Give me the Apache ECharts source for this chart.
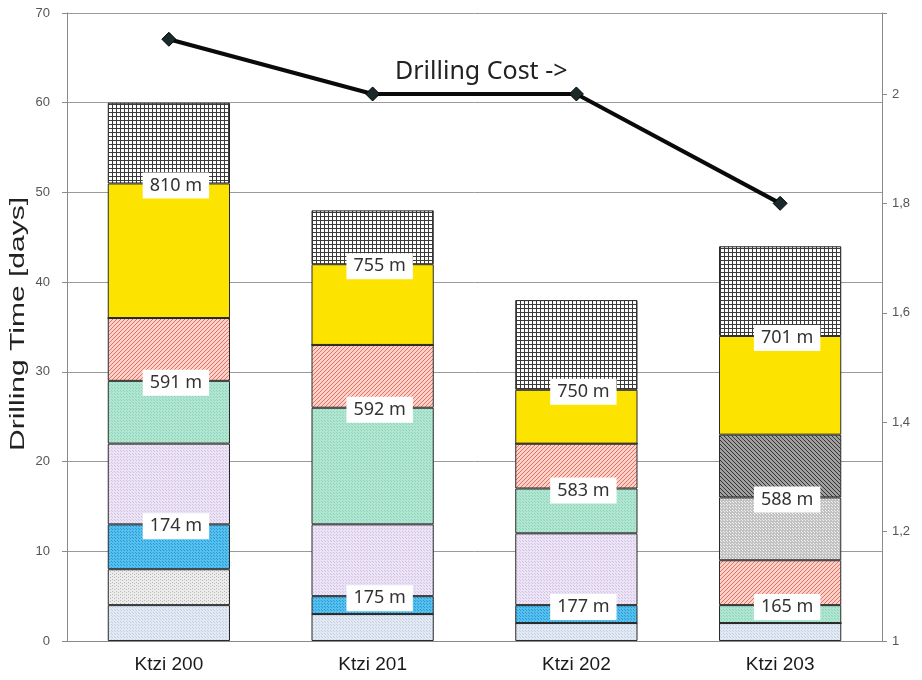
<!DOCTYPE html>
<html><head><meta charset="utf-8">
<script src="https://cdn.jsdelivr.net/npm/echarts@6/dist/echarts.min.js"></script>
<style>html,body{margin:0;padding:0;background:#fff}#c{width:922px;height:680px}</style>
</head><body><div id="c"></div>
<script>
// ---- data ----
var categories = ['Ktzi 200', 'Ktzi 201', 'Ktzi 202', 'Ktzi 203'];
// stacked drilling-time segments [days], bottom to top
var segLightBlue = [4, 3, 2, 2];
var segGreyLines = [4, 0, 0, 0];
var segBlue      = [5, 2, 2, 0];
var segLavender  = [9, 8, 8, 0];
var segMint      = [7, 13, 5, 2];
var segSalmon    = [7, 7, 5, 5];
var segGreyDots  = [0, 0, 0, 7];
var segDarkHatch = [0, 0, 0, 7];
var segYellow    = [15, 9, 6, 11];
var segGrid      = [9, 6, 10, 10];
// depth labels placed on the top edge of a segment
var blueLabels     = ['174 m', '175 m', '177 m', null];
var mintLabels     = ['591 m', '592 m', '583 m', '165 m'];
var greyDotsLabels = [null, null, null, '588 m'];
var yellowLabels   = ['810 m', '755 m', '750 m', '701 m'];
// drilling cost (right axis)
var drillingCost = [2.1, 2.0, 2.0, 1.8];
var costNote = 'Drilling Cost ->';
var yLeftName = 'Drilling Time [days]';

// ---- patterns ----
function makeCanvas(w, h, draw) {
  var c = document.createElement('canvas'); c.width = w; c.height = h;
  draw(c.getContext('2d'), w, h); return c;
}
function dots(bg, fg, size) {
  return makeCanvas(size, size, function (g, w, h) {
    g.fillStyle = bg; g.fillRect(0, 0, w, h);
    g.fillStyle = fg; g.fillRect(0, 0, 1, 1); g.fillRect(Math.floor(w / 2), Math.floor(h / 2), 1, 1);
  });
}
function hatch(bg, fg, dir) {
  return makeCanvas(4, 4, function (g, w, h) {
    g.fillStyle = bg; g.fillRect(0, 0, w, h);
    g.fillStyle = fg;
    for (var i = 0; i < 4; i++) {
      var x = dir > 0 ? 3 - i : i;
      g.fillRect(x, i, 1, 1);
    }
  });
}
function gridPat() {
  return makeCanvas(4, 4, function (g, w, h) {
    g.fillStyle = '#ffffff'; g.fillRect(0, 0, w, h);
    g.fillStyle = '#3a3a3a'; g.fillRect(0, 0, w, 1); g.fillRect(0, 0, 1, h);
  });
}
function vlines(bg, fg) {
  return makeCanvas(4, 3, function (g, w, h) {
    g.fillStyle = bg; g.fillRect(0, 0, w, h);
    g.fillStyle = fg; g.fillRect(0, 0, 1, 1); g.fillRect(2, 1, 1, 1);
  });
}
function pattern(c) { return { image: c, repeat: 'repeat' }; }

var styles = {
  lightBlue: pattern(dots('#e2e9f3', '#c0cfe4', 3)),
  greyLines: pattern(vlines('#ececec', '#b8b8b8')),
  blue: pattern(dots('#55bfee', '#2b98d6', 3)),
  lavender: pattern(dots('#ece4f4', '#cfc2e2', 3)),
  mint: pattern(dots('#b0e6d1', '#8fd3ba', 3)),
  salmon: pattern(hatch('#f9d2cb', '#e8705c', 1)),
  greyDots: pattern(dots('#c2c2c2', '#f0f0f0', 3)),
  darkHatch: pattern(hatch('#a0a0a0', '#333333', -1)),
  yellow: '#fde300',
  grid: pattern(gridPat())
};

var labelFont = '"Noto Sans", sans-serif';
function barSeries(name, data, color, labels) {
  return {
    name: name, type: 'bar', stack: 'time', barWidth: '60%',
    itemStyle: { color: color, borderColor: '#2a2a2a', borderWidth: 1 },
    data: data.map(function (v, i) {
      var d = { value: v };
      if (labels && labels[i]) {
        d.label = {
          show: true, formatter: labels[i], position: 'top', distance: -15, offset: [7, 0],
          backgroundColor: '#ffffff', padding: [4, 7], color: '#333', fontSize: 18,
          fontFamily: labelFont
        };
      }
      return d;
    })
  };
}

var chart = echarts.init(document.getElementById('c'), null, { renderer: 'canvas' });
chart.setOption({
  animation: false,
  backgroundColor: '#ffffff',
  grid: { left: 67, right: 40, top: 13, bottom: 39 },
  xAxis: {
    type: 'category', data: categories,
    axisLine: { lineStyle: { color: '#8a8a8a' } },
    axisTick: { show: false },
    axisLabel: { color: '#1a1a1a', fontSize: 19, fontFamily: 'Liberation Sans', margin: 14 }
  },
  yAxis: [{
    type: 'value', min: 0, max: 70, interval: 10,
    axisLine: { show: true, lineStyle: { color: '#8a8a8a' } },
    axisTick: { show: true, length: 5, lineStyle: { color: '#8a8a8a' } },
    axisLabel: { color: '#555', fontSize: 13, fontFamily: 'Liberation Sans', margin: 17 },
    splitLine: { show: true, lineStyle: { color: '#9a9a9a', width: 1 } }
  }, {
    type: 'value', min: 1, max: 2.148, interval: 0.2, position: 'right',
    axisLine: { show: true, lineStyle: { color: '#8a8a8a' } },
    axisTick: { show: true, length: 5, lineStyle: { color: '#8a8a8a' } },
    axisLabel: {
      color: '#555', fontSize: 13, fontFamily: 'Liberation Sans', margin: 10,
      formatter: function (v) { if (v > 2.01) return ''; return String(Math.round(v * 10) / 10).replace('.', ','); }
    },
    splitLine: { show: false }
  }],
  series: [
    barSeries('lightBlue', segLightBlue, styles.lightBlue),
    barSeries('greyLines', segGreyLines, styles.greyLines),
    barSeries('blue', segBlue, styles.blue, blueLabels),
    barSeries('lavender', segLavender, styles.lavender),
    barSeries('mint', segMint, styles.mint, mintLabels),
    barSeries('salmon', segSalmon, styles.salmon),
    barSeries('greyDots', segGreyDots, styles.greyDots, greyDotsLabels),
    barSeries('darkHatch', segDarkHatch, styles.darkHatch),
    barSeries('yellow', segYellow, styles.yellow, yellowLabels),
    barSeries('grid', segGrid, styles.grid),
    {
      name: 'Drilling Cost', type: 'line', yAxisIndex: 1, data: drillingCost, z: 5,
      symbol: 'diamond', symbolSize: 14,
      lineStyle: { color: '#0a0a0a', width: 4 },
      itemStyle: { color: '#1a2a2a', borderColor: '#000', borderWidth: 1 }
    }
  ],
  graphic: [{
    type: 'text', left: 395, top: 59, z: 10,
    style: { text: costNote, fill: '#222', font: '25px "Noto Sans", sans-serif' }
  }, {
    type: 'text', x: 18, y: 324, rotation: Math.PI / 2, scaleX: 1.5, z: 10,
    style: { text: yLeftName, fill: '#222', font: '20px "Liberation Sans", sans-serif',
             align: 'center', verticalAlign: 'middle' }
  }]
});
</script></body></html>
